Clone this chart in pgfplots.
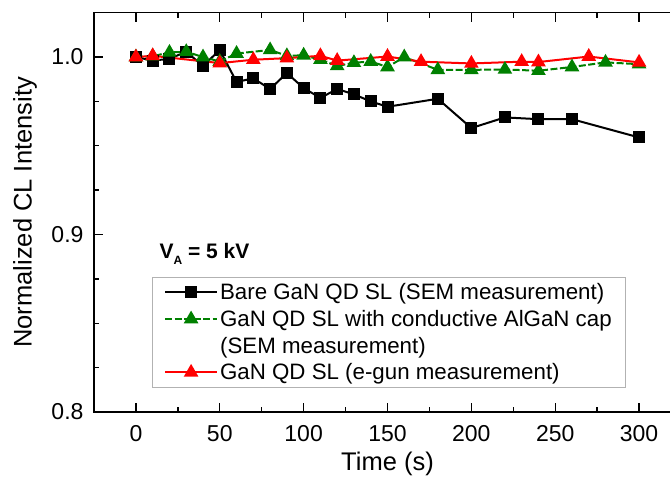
\documentclass[border=0pt]{standalone}
\usepackage{fontspec}
\setmainfont{Liberation Sans}
\usepackage{pgfplots}
\pgfplotsset{compat=1.18}
\definecolor{cgreen}{RGB}{0,128,0}
\definecolor{cred}{RGB}{255,0,0}
\begin{document}
\begin{tikzpicture}
\begin{axis}[
  at={(0pt,0pt)}, anchor=south west,
  scale only axis, width=587pt, height=399.3pt,
  xmin=-25, xmax=325, ymin=0.8, ymax=1.025,
  xtick={0,50,...,300}, minor x tick num=1,
  ytick={0.8,0.9,1.0}, minor y tick num=3,
  yticklabel style={xshift=-7pt, /pgf/number format/fixed, /pgf/number format/fixed zerofill, /pgf/number format/precision=1},
  /pgf/number format/assume math mode=true,
  tick align=inside,
  major tick length=9pt, minor tick length=5pt,
  axis line style={line width=1.6pt},
  every tick/.style={line width=1.4pt, black},
  tick label style={font=\fontsize{23}{27}\selectfont},
  xticklabel style={yshift=-10pt},
  xlabel={Time (s)},
  ylabel={Normalized CL Intensity},
  label style={font=\fontsize{25.5}{30}\selectfont},
  xlabel style={at={(axis description cs:0.5,-0.1302)}, anchor=center},
  ylabel style={at={(axis description cs:-0.1175,0.5)}, anchor=center},
  legend style={at={(rel axis cs:0.0983,0.3376)}, anchor=north west,
    draw=gray!60, line width=0.8pt, fill=white,
    font=\fontsize{22.3}{26}\selectfont,
    inner xsep=12pt, inner ysep=4pt, row sep=5pt},
  legend cell align=left,
  legend image code/.code={\draw[mark repeat=2,mark phase=2] plot coordinates {(0pt,0pt)(26pt,0pt)(52pt,0pt)};},
]
\addplot[black, line width=2pt, mark=square*, mark size=5pt, mark options={solid}] coordinates {
(0,1.000) (10,0.998) (20,0.999) (30,1.003) (40,0.995) (50,1.004) (60,0.986) (70,0.988)
(80,0.982) (90,0.991) (100,0.9825) (110,0.977) (120,0.982) (130,0.979) (140,0.975)
(150,0.972) (180,0.9765) (200,0.960) (220,0.966) (240,0.965) (260,0.965) (300,0.9547)
};
\addlegendentry{Bare GaN QD SL (SEM measurement)}
\addplot[cgreen, line width=2pt, dash pattern=on 7pt off 2.5pt, mark=triangle*, mark size=6.5pt, mark options={solid}] coordinates {
(0,1.000) (10,1.0005) (20,1.0026) (30,1.003) (40,1.000) (50,0.9975) (60,1.002)
(80,1.004) (90,1.0007) (100,1.001) (110,0.9985) (120,0.9950) (130,0.9968) (140,0.9975)
(150,0.9944) (160,1.000) (180,0.9928) (200,0.9928) (220,0.993) (240,0.9923)
(260,0.9944) (280,0.997) (300,0.996)
};
\addlegendentry{GaN QD SL with conductive AlGaN cap}
\addlegendimage{empty legend}
\addlegendentry{(SEM measurement)}
\addplot[cred, line width=2pt, mark=triangle*, mark size=6.5pt, mark options={solid}] coordinates {
(0,1.000) (10,1.0007) (50,0.9966) (70,0.9985) (90,0.9994) (110,1.0007) (120,0.998)
(150,1.0003) (170,0.9974) (200,0.9964) (230,0.9974) (240,0.9972) (270,1.0003) (300,0.997)
};
\addlegendentry{GaN QD SL (e-gun measurement)}
\node[anchor=base west, font=\bfseries\fontsize{21}{25}\selectfont] at (axis cs:12,0.8864)
  {V\raisebox{-6pt}{\fontsize{12}{12}\selectfont A} = 5 kV};
\end{axis}
\pgfresetboundingbox
\path[use as bounding box] (-94pt,-67pt) rectangle (576pt,412pt);
\end{tikzpicture}
\end{document}
